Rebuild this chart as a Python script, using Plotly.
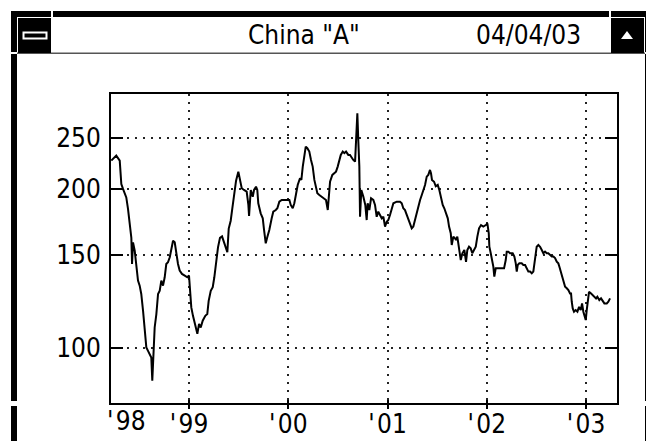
import math
import plotly.graph_objects as go

# ---------------- data ----------------
year = [1998.217, 1998.267, 1998.302, 1998.318, 1998.335, 1998.352, 1998.368, 1998.385, 1998.402, 1998.419,
        1998.426, 1998.436, 1998.453, 1998.469, 1998.486, 1998.503, 1998.519, 1998.537, 1998.554, 1998.570,
        1998.587, 1998.604, 1998.620, 1998.630, 1998.644, 1998.654, 1998.671, 1998.688, 1998.705, 1998.721,
        1998.738, 1998.755, 1998.771, 1998.788, 1998.806, 1998.822, 1998.839, 1998.856, 1998.872, 1998.889,
        1998.906, 1998.929, 1998.957, 1998.983, 1999.000, 1999.010, 1999.023, 1999.040, 1999.057, 1999.074,
        1999.084, 1999.101, 1999.118, 1999.138, 1999.164, 1999.184, 1999.198, 1999.219, 1999.239, 1999.255,
        1999.272, 1999.292, 1999.312, 1999.333, 1999.353, 1999.373, 1999.386, 1999.400, 1999.420, 1999.436,
        1999.453, 1999.474, 1999.497, 1999.531, 1999.554, 1999.581, 1999.598, 1999.605, 1999.622, 1999.642,
        1999.655, 1999.675, 1999.688, 1999.698, 1999.722, 1999.743, 1999.756, 1999.773, 1999.789, 1999.809,
        1999.833, 1999.849, 1999.874, 1999.890, 1999.910, 1999.934, 1999.957, 1999.984, 2000.011, 2000.025,
        2000.045, 2000.061, 2000.078, 2000.095, 2000.118, 2000.132, 2000.146, 2000.162, 2000.176, 2000.192,
        2000.212, 2000.229, 2000.246, 2000.263, 2000.280, 2000.293, 2000.313, 2000.337, 2000.360, 2000.380,
        2000.398, 2000.408, 2000.421, 2000.444, 2000.464, 2000.481, 2000.498, 2000.514, 2000.529, 2000.549,
        2000.565, 2000.582, 2000.605, 2000.622, 2000.639, 2000.655, 2000.673, 2000.683, 2000.696, 2000.706,
        2000.716, 2000.723, 2000.736, 2000.756, 2000.776, 2000.790, 2000.800, 2000.817, 2000.834, 2000.857,
        2000.874, 2000.891, 2000.907, 2000.924, 2000.942, 2000.958, 2000.975, 2000.992, 2001.008, 2001.025,
        2001.042, 2001.059, 2001.093, 2001.126, 2001.143, 2001.159, 2001.176, 2001.194, 2001.210, 2001.227,
        2001.244, 2001.260, 2001.277, 2001.294, 2001.310, 2001.328, 2001.345, 2001.361, 2001.378, 2001.395,
        2001.411, 2001.428, 2001.438, 2001.448, 2001.469, 2001.486, 2001.506, 2001.522, 2001.539, 2001.556,
        2001.572, 2001.590, 2001.607, 2001.620, 2001.637, 2001.647, 2001.663, 2001.680, 2001.690, 2001.703,
        2001.713, 2001.724, 2001.738, 2001.754, 2001.774, 2001.791, 2001.804, 2001.821, 2001.838, 2001.854,
        2001.872, 2001.889, 2001.905, 2001.922, 2001.942, 2001.965, 2001.990, 2002.006, 2002.020, 2002.026,
        2002.040, 2002.053, 2002.066, 2002.076, 2002.090, 2002.117, 2002.151, 2002.174, 2002.191, 2002.201,
        2002.217, 2002.234, 2002.261, 2002.278, 2002.292, 2002.302, 2002.312, 2002.328, 2002.352, 2002.368,
        2002.386, 2002.403, 2002.419, 2002.436, 2002.453, 2002.469, 2002.476, 2002.489, 2002.503, 2002.520,
        2002.537, 2002.554, 2002.570, 2002.587, 2002.604, 2002.620, 2002.637, 2002.655, 2002.671, 2002.688,
        2002.705, 2002.721, 2002.731, 2002.745, 2002.758, 2002.771, 2002.789, 2002.806, 2002.822, 2002.839,
        2002.849, 2002.856, 2002.866, 2002.879, 2002.896, 2002.913, 2002.930, 2002.947, 2002.960, 2002.973,
        2002.987, 2002.997, 2003.007, 2003.017, 2003.030, 2003.051, 2003.068, 2003.084, 2003.101, 2003.114,
        2003.134, 2003.151, 2003.168, 2003.185, 2003.209, 2003.225, 2003.242]

index_value = [226.5, 231.5, 226.5, 204.6, 200.2, 195.8, 192.9, 183.7, 174.3, 161.7,
               144.3, 158.6, 152.9, 142.2, 134.2, 131.3, 126.6, 117.6, 109.4, 100.3,
               98.8, 97.4, 96.0, 86.7, 97.4, 109.4, 116.0, 126.6, 128.4, 134.2,
               131.3, 136.2, 144.3, 145.4, 148.6, 152.9, 159.7, 158.6, 150.8, 144.3,
               140.2, 138.2, 137.2, 136.2, 137.2, 126.6, 119.4, 115.1, 111.1, 108.7,
               106.4, 111.1, 109.4, 112.7, 115.1, 116.0, 122.9, 128.4, 130.4, 136.2,
               144.3, 155.2, 161.7, 162.8, 158.6, 155.2, 151.9, 168.4, 174.3, 183.7,
               195.8, 207.5, 215.9, 200.8, 199.3, 197.9, 186.7, 177.9, 199.3, 193.5,
               199.3, 202.2, 199.3, 188.1, 180.0, 176.1, 167.4, 157.9, 162.3, 167.4,
               176.1, 181.3, 182.6, 184.0, 189.4, 190.8, 190.8, 190.8, 190.8, 186.7,
               184.0, 188.1, 196.4, 203.7, 209.8, 208.2, 220.7, 232.2, 240.8, 239.1,
               235.6, 227.2, 220.7, 208.2, 200.8, 196.5, 195.0, 193.6, 192.2, 190.8,
               182.6, 190.8, 206.6, 212.8, 214.4, 215.9, 220.7, 227.2, 232.2, 235.6,
               234.0, 235.6, 232.2, 232.2, 228.9, 227.2, 225.5, 247.9, 278.4, 246.1,
               220.7, 177.3, 199.3, 193.6, 186.7, 174.8, 188.1, 182.6, 192.2, 190.8,
               186.7, 177.3, 181.3, 178.7, 176.1, 177.3, 169.9, 173.5, 174.8, 178.7,
               184.0, 188.1, 189.4, 189.4, 188.1, 184.0, 182.6, 178.7, 176.1, 172.3,
               168.6, 169.9, 174.8, 180.0, 186.7, 190.8, 195.0, 199.3, 203.7, 211.2,
               212.8, 217.5, 214.4, 208.2, 206.6, 202.5, 203.7, 199.3, 192.2, 186.7,
               184.0, 180.0, 176.1, 169.9, 165.0, 156.8, 162.6, 161.4, 160.2, 162.6,
               157.9, 153.4, 146.8, 151.2, 153.4, 145.7, 153.4, 155.6, 154.5, 151.2,
               153.4, 155.6, 162.6, 168.6, 171.0, 169.9, 171.0, 172.3, 165.0, 155.6,
               151.2, 146.8, 142.7, 136.6, 141.6, 141.6, 141.6, 141.6, 146.8, 152.3,
               152.3, 151.2, 151.2, 149.1, 144.7, 139.6, 143.7, 144.7, 144.7, 143.7,
               143.7, 141.6, 139.6, 139.6, 138.6, 139.6, 142.7, 149.1, 155.6, 156.8,
               155.6, 153.4, 151.2, 152.3, 151.2, 151.2, 150.1, 149.1, 149.1, 148.1,
               145.8, 144.7, 142.7, 139.6, 136.6, 133.6, 130.7, 129.8, 128.8, 126.9,
               126.9, 122.4, 118.9, 117.2, 118.0, 117.2, 119.7, 118.0, 121.5, 117.2,
               114.7, 113.0, 118.0, 123.3, 127.8, 126.9, 126.0, 125.1, 124.2, 125.1,
               123.3, 124.2, 122.4, 121.5, 121.5, 122.4, 124.2]

y_tick_vals = [100, 150, 200, 250]
y_tick_text = ["100", "150", "200", "250"]
x_tick_vals = [1999, 2000, 2001, 2002, 2003]
x_tick_text = ["'\u200a99", "'\u200a00", "'\u200a01", "'\u200a02", "'\u200a03"]
first_label_text = "'\u200a98"
first_label_year = 1998.375
x_range = [1998.214, 2003.312]
y_range_vals = [78.7, 302.9]
title_text = 'China "A"'
date_text = "04/04/03"

# ---------------- layout helpers ----------------
# the page body has an 8px margin, so the figure is laid out 8px in from the window edge
OFF = 8
W, H = 646, 433
def px(x):
    return (x - OFF) / W
def py(y):
    return 1 - (y - OFF) / H

FONT = "Liberation Sans Narrow, DejaVu Sans Condensed, Arial Narrow, Liberation Sans, sans-serif"
FS = 26

fig = go.Figure()
fig.add_trace(go.Scatter(x=year, y=index_value, mode="lines",
                         line=dict(color="black", width=2), xaxis="x", yaxis="y",
                         showlegend=False, hoverinfo="x+y"))

grid = dict(showgrid=True, gridcolor="#222222", gridwidth=1.6, griddash="2px,6px")

fig.update_layout(
    width=W, height=H,
    margin=dict(l=0, r=0, t=0, b=0),
    paper_bgcolor="white", plot_bgcolor="white",
    font=dict(family=FONT, size=FS, color="black"),
    xaxis=dict(domain=[px(111), px(617)], range=x_range, anchor="y",
               tickmode="array", tickvals=x_tick_vals, ticktext=x_tick_text,
               ticks="outside", ticklen=4, tickwidth=2, tickcolor="black",
               showline=True, linecolor="black", linewidth=2, mirror=True,
               zeroline=False, automargin=False, ticklabelstandoff=-7,
               tickfont=dict(family=FONT, size=FS, color="black"), **grid),
    xaxis2=dict(domain=[px(111), px(617)], range=x_range, anchor="y", overlaying="x",
                tickmode="array", tickvals=x_tick_vals, showticklabels=False,
                ticks="inside", ticklen=3, tickwidth=2, tickcolor="black",
                showline=False, showgrid=False, zeroline=False, automargin=False),
    yaxis=dict(domain=[py(403), py(94)], type="log",
               range=[math.log10(y_range_vals[0]), math.log10(y_range_vals[1])],
               tickmode="array", tickvals=y_tick_vals, ticktext=y_tick_text,
               ticks="inside", ticklen=12, tickwidth=2, tickcolor="black",
               showline=True, linecolor="black", linewidth=2, mirror="ticks",
               zeroline=False, automargin=False, ticklabelstandoff=3,
               tickfont=dict(family=FONT, size=FS, color="black"), **grid),
)

# invisible point on xaxis2 so the overlay axis (inner half of the x ticks) renders
fig.add_trace(go.Scatter(x=[x_range[0]], y=[y_range_vals[0]], xaxis="x2", yaxis="y",
                         mode="markers", marker=dict(opacity=0), showlegend=False,
                         hoverinfo="skip"))

# '98 label (no tick mark at that position)
fig.add_annotation(x=first_label_year, xref="x", y=py(404), yref="paper",
                   text=first_label_text, showarrow=False, yanchor="top",
                   font=dict(family=FONT, size=FS, color="black"))

# ---------------- window frame (decoration) ----------------
shapes = []
def rect(x0, y0, x1, y1, fill="black", line=None):
    d = dict(type="rect", xref="paper", yref="paper",
             x0=px(x0), x1=px(x1), y0=py(y1), y1=py(y0),
             fillcolor=fill, layer="above")
    d["line"] = line if line else dict(width=0)
    shapes.append(d)

# top bar with small gaps
rect(11, 11, 51, 17)
rect(53, 11, 609, 17)
rect(611, 11, 653, 17)
# left outer bar with gaps
rect(11, 17, 17, 52)
rect(11, 54, 17, 401)
rect(11, 406, 17, 441)
# right outer bar with gaps
rect(645, 17, 652, 52)
rect(645, 54, 652, 401)
rect(645, 406, 652, 441)
# title bar bottom line
rect(17, 52.5, 645, 54, fill="#555555")
# left (minus) button
rect(18, 18, 51, 53)
rect(23.5, 32.5, 46.5, 38.5, fill="black", line=dict(color="white", width=2))
# right (up-arrow) button
rect(611, 18, 644, 53)
shapes.append(dict(type="path", xref="paper", yref="paper",
                   path=f"M {px(621)} {py(39)} L {px(633)} {py(39)} L {px(627)} {py(31)} Z",
                   fillcolor="white", line=dict(width=0), layer="above"))
fig.update_layout(shapes=shapes)

fig.add_annotation(x=px(304), y=py(35), xref="paper", yref="paper", text=title_text,
                   showarrow=False, xanchor="center", yanchor="middle",
                   font=dict(family=FONT, size=FS, color="black"))
fig.add_annotation(x=px(528), y=py(35), xref="paper", yref="paper", text=date_text,
                   showarrow=False, xanchor="center", yanchor="middle",
                   font=dict(family=FONT, size=FS, color="black"))

fig.write_html("out.html")
